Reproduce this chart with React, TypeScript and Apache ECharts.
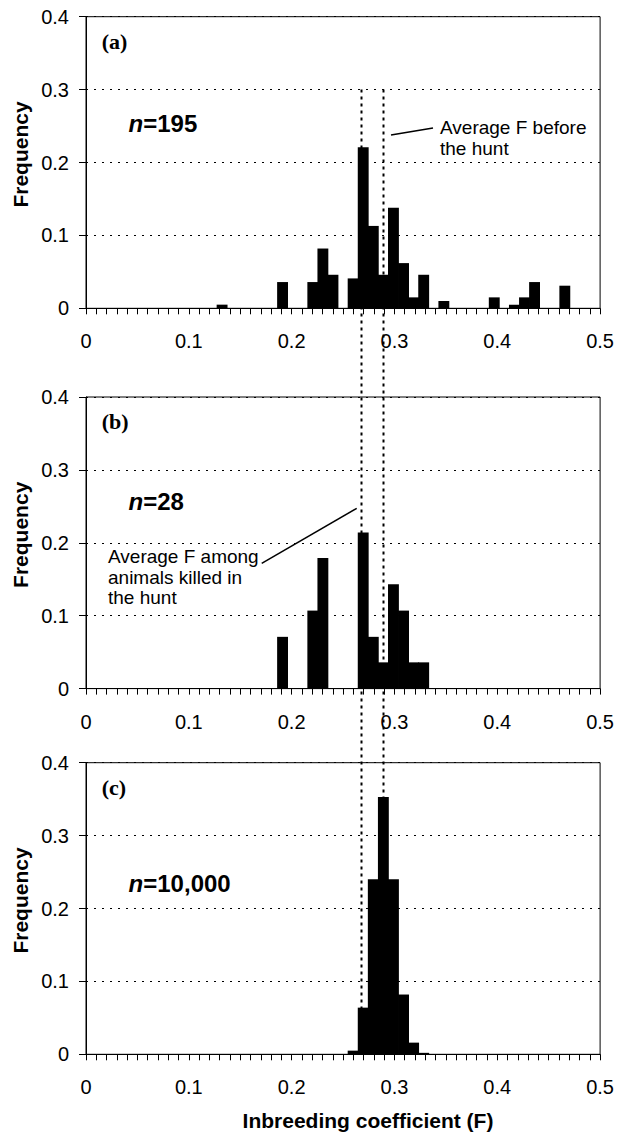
import React, { useEffect, useRef } from "react";
import * as echarts from "echarts";

// Histogram bin categories (inbreeding coefficient F, 0.01-wide bins)
const categories = [
  "0.00", "0.01", "0.02", "0.03", "0.04", "0.05", "0.06", "0.07", "0.08", "0.09",
  "0.10", "0.11", "0.12", "0.13", "0.14", "0.15", "0.16", "0.17", "0.18", "0.19",
  "0.20", "0.21", "0.22", "0.23", "0.24", "0.25", "0.26", "0.27", "0.28", "0.29",
  "0.30", "0.31", "0.32", "0.33", "0.34", "0.35", "0.36", "0.37", "0.38", "0.39",
  "0.40", "0.41", "0.42", "0.43", "0.44", "0.45", "0.46", "0.47", "0.48", "0.49",
  "0.50",
];

const xTickLabels = ["0", "0.1", "0.2", "0.3", "0.4", "0.5"];
const yTickLabels = ["0", "0.1", "0.2", "0.3", "0.4"];

// (a) before the hunt, n = 195
const binsA = [0.13, 0.19, 0.22, 0.23, 0.24, 0.26, 0.27, 0.28, 0.29, 0.30, 0.31, 0.32, 0.33, 0.35, 0.40, 0.42, 0.43, 0.44, 0.47];
const freqA = [0.005, 0.036, 0.036, 0.082, 0.046, 0.041, 0.221, 0.113, 0.046, 0.138, 0.062, 0.015, 0.046, 0.010, 0.015, 0.005, 0.015, 0.036, 0.031];

// (b) animals killed in the hunt, n = 28
const binsB = [0.19, 0.22, 0.23, 0.27, 0.28, 0.29, 0.30, 0.31, 0.32, 0.33];
const freqB = [0.071, 0.107, 0.179, 0.214, 0.071, 0.036, 0.143, 0.107, 0.036, 0.036];

// (c) simulated, n = 10,000
const binsC = [0.26, 0.27, 0.28, 0.29, 0.30, 0.31, 0.32, 0.33];
const freqC = [0.005, 0.064, 0.240, 0.353, 0.240, 0.082, 0.016, 0.002];

const panelLabels = ["(a)", "(b)", "(c)"];
const sampleSizes = ["195", "28", "10,000"];
const avgKilled = 0.267;
const avgBefore = 0.289;
const yAxisTitle = "Frequency";
const xAxisTitle = "Inbreeding coefficient (F)";
const noteBefore = "Average F before\nthe hunt";
const noteKilled = "Average F among\nanimals killed in\nthe hunt";

function buildSeriesData(bins: number[], freqs: number[]) {
  return categories.map((c) => {
    const idx = bins.findIndex((b) => Math.abs(b - parseFloat(c)) < 1e-9);
    return idx >= 0 ? freqs[idx] : 0;
  });
}

const SANS = "'Liberation Sans', Arial, sans-serif";
const SERIF = "'Liberation Serif', 'Times New Roman', serif";

const GRID_LEFT = 86;
const GRID_W = 519;
const GRID_H = 291.6;
const GRID_TOPS = [16.7, 397, 762.7];
const N_TEXT_Y = [123.3, 501.7, 883];

export default function App() {
  const ref = useRef<HTMLDivElement>(null);

  useEffect(() => {
    if (!ref.current) return;
    const chart = echarts.init(ref.current, null, { renderer: "svg" });
    const black = "#000";
    const panels = [
      buildSeriesData(binsA, freqA),
      buildSeriesData(binsB, freqB),
      buildSeriesData(binsC, freqC),
    ];

    const xAxes: any[] = [];
    const yAxes: any[] = [];
    const grids: any[] = [];
    const series: any[] = [];
    panels.forEach((data, i) => {
      grids.push({
        left: GRID_LEFT,
        top: GRID_TOPS[i],
        width: GRID_W,
        height: GRID_H,
        show: true,
        borderColor: black,
        borderWidth: 1,
        backgroundColor: "transparent",
      });
      xAxes.push({
        type: "category",
        gridIndex: i,
        data: categories,
        show: false,
        position: "top",
        boundaryGap: true,
      });
      xAxes.push({
        type: "value",
        gridIndex: i,
        min: 0,
        max: 0.5,
        interval: 0.01,
        position: "bottom",
        axisLine: { show: true, onZero: false, lineStyle: { color: black, width: 1 } },
        axisTick: { show: true, length: 6, lineStyle: { color: black, width: 1 } },
        axisLabel: {
          fontSize: 20,
          fontFamily: SANS,
          color: black,
          margin: 23,
          formatter: (v: number) => {
            const r = Math.round(v * 100);
            return r % 10 === 0 ? xTickLabels[r / 10] : "";
          },
        },
        splitLine: { show: false },
      });
      yAxes.push({
        type: "value",
        gridIndex: i,
        min: 0,
        max: 0.4,
        interval: 0.1,
        axisLine: { show: true, lineStyle: { color: black, width: 1 } },
        axisTick: { show: true, length: 7, lineStyle: { color: black, width: 1 } },
        axisLabel: {
          fontSize: 20,
          fontFamily: SANS,
          color: black,
          margin: 17,
          formatter: (v: number) => yTickLabels[Math.round(v * 10)],
        },
        splitLine: { show: true, lineStyle: { color: black, width: 1, type: [2, 6] } },
      });
      series.push({
        type: "bar",
        xAxisIndex: 2 * i,
        yAxisIndex: i,
        data,
        barWidth: "108%",
        itemStyle: { color: black },
        silent: true,
        z: 3,
      });
    });

    chart.setOption({
      animation: false,
      backgroundColor: "#fff",
      grid: grids,
      xAxis: xAxes,
      yAxis: yAxes,
      series,
    });

    const gx = (i: number, v: number) => chart.convertToPixel({ xAxisIndex: 2 * i + 1 }, v) as number;
    const gy = (i: number, v: number) => chart.convertToPixel({ yAxisIndex: i }, v) as number;

    const elements: any[] = [];
    // dashed vertical reference lines through all panels
    [avgKilled, avgBefore].forEach((f) => {
      const x = Math.round(gx(0, f)) + 0.5;
      elements.push({
        type: "line",
        z: 1,
        shape: { x1: x, y1: gy(0, 0.3), x2: x, y2: gy(2, 0) },
        style: { stroke: black, lineWidth: 2, lineDash: [3, 4] },
        silent: true,
      });
    });

    panelLabels.forEach((lab, i) => {
      elements.push({
        type: "text",
        z: 5,
        style: {
          text: lab,
          x: 101.7,
          y: GRID_TOPS[i] + 24.3,
          font: `bold 22px ${SERIF}`,
          fill: black,
          verticalAlign: "middle",
          textVerticalAlign: "middle",
        },
      });
      elements.push({
        type: "text",
        z: 5,
        style: {
          text: `{i|n}{b|=${sampleSizes[i]}}`,
          x: 128.6,
          y: N_TEXT_Y[i],
          verticalAlign: "middle",
          textVerticalAlign: "middle",
          rich: {
            i: { fontStyle: "italic", fontWeight: "bold", fontSize: 24, fontFamily: SANS, fill: black },
            b: { fontWeight: "bold", fontSize: 24, fontFamily: SANS, fill: black },
          },
        },
      });
      elements.push({
        type: "text",
        z: 5,
        rotation: Math.PI / 2,
        x: 20,
        y: GRID_TOPS[i] + GRID_H / 2 - 8,
        style: {
          text: yAxisTitle,
          x: 0,
          y: 0,
          font: `bold 21px ${SANS}`,
          fill: black,
          align: "center",
          textAlign: "center",
          verticalAlign: "middle",
          textVerticalAlign: "middle",
        },
      });
    });

    // annotation (a)
    elements.push({
      type: "line",
      z: 5,
      shape: { x1: 391, y1: 135, x2: 433, y2: 128 },
      style: { stroke: black, lineWidth: 1.5 },
    });
    elements.push({
      type: "text",
      z: 5,
      style: {
        text: noteBefore,
        x: 440,
        y: 117,
        font: `19px ${SANS}`,
        lineHeight: 21,
        fill: black,
        verticalAlign: "top",
        textVerticalAlign: "top",
      },
    });
    // annotation (b)
    elements.push({
      type: "line",
      z: 5,
      shape: { x1: 261.7, y1: 563.3, x2: 356.7, y2: 508.3 },
      style: { stroke: black, lineWidth: 1.5 },
    });
    elements.push({
      type: "text",
      z: 5,
      style: {
        text: noteKilled,
        x: 108,
        y: 546.5,
        font: `19px ${SANS}`,
        lineHeight: 20.5,
        fill: black,
        verticalAlign: "top",
        textVerticalAlign: "top",
      },
    });
    // x-axis title
    elements.push({
      type: "text",
      z: 5,
      style: {
        text: xAxisTitle,
        x: 368,
        y: 1120,
        font: `bold 21px ${SANS}`,
        fill: black,
        align: "center",
        textAlign: "center",
        verticalAlign: "middle",
        textVerticalAlign: "middle",
      },
    });

    chart.setOption({ graphic: { elements } });

    return () => chart.dispose();
  }, []);

  return (
    <div
      ref={ref}
      style={{ position: "absolute", left: 0, top: 0, width: 617, height: 1137, background: "#fff" }}
    />
  );
}
